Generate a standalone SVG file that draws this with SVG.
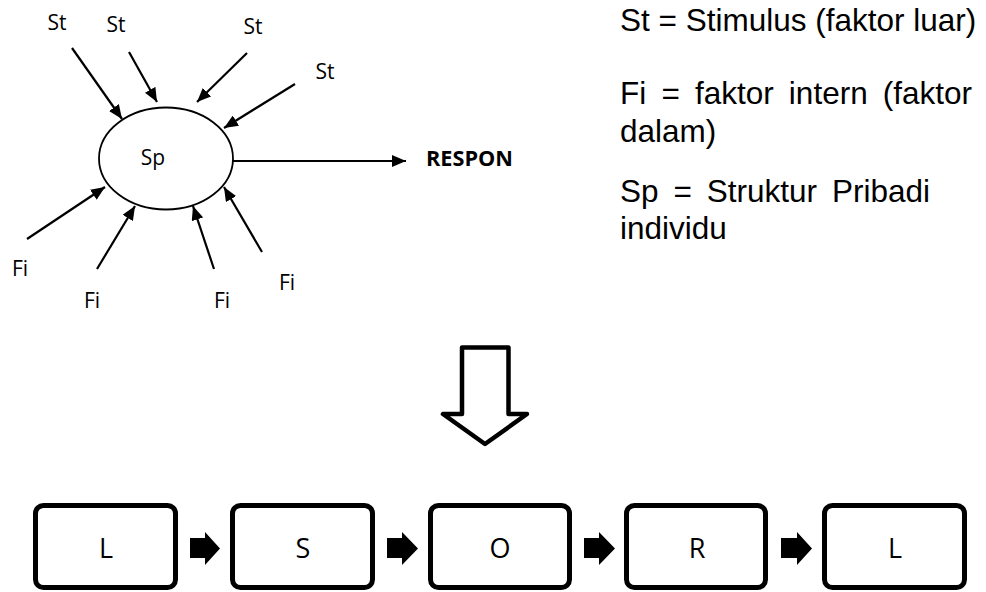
<svg xmlns="http://www.w3.org/2000/svg" width="986" height="592" viewBox="0 0 986 592">
<style>
.lbl{font-family:"Open Sans","Liberation Sans",sans-serif;font-size:21px;fill:#000;text-anchor:middle}
.leg{font-family:"Liberation Sans",Arial,sans-serif;font-size:31.5px;fill:#000}
.box{fill:#fff;stroke:#000;stroke-width:5}
.blbl{font-family:"Open Sans","Liberation Sans",sans-serif;font-size:27px;fill:#000;text-anchor:middle}
.con{stroke:#000;stroke-width:2.2;fill:none;marker-end:url(#ah)}
</style>
<defs>
<marker id="ah" markerUnits="userSpaceOnUse" markerWidth="14" markerHeight="12" refX="14" refY="6" orient="auto">
<path d="M0,0 L14,6 L0,12 z" fill="#000"/>
</marker>
</defs>
<rect width="986" height="592" fill="#fff"/>
<g id="sp">
<ellipse cx="166" cy="158.5" rx="67" ry="51" fill="#fff" stroke="#000" stroke-width="1.8"/>
<text class="lbl" x="153" y="165">Sp</text>
</g>
<g id="st1"><text class="lbl" x="57" y="30">St</text></g>
<g id="st2"><text class="lbl" x="116" y="32">St</text></g>
<g id="st3"><text class="lbl" x="253" y="34">St</text></g>
<g id="st4"><text class="lbl" x="325" y="79">St</text></g>
<g id="fi1"><text class="lbl" x="20" y="276">Fi</text></g>
<g id="fi2"><text class="lbl" x="92" y="308">Fi</text></g>
<g id="fi3"><text class="lbl" x="222" y="308">Fi</text></g>
<g id="fi4"><text class="lbl" x="287" y="290">Fi</text></g>
<g id="respon"><text x="426" y="166" textLength="87" lengthAdjust="spacingAndGlyphs" style="font-family:'Open Sans','Liberation Sans',sans-serif;font-size:22px;font-weight:bold;fill:#000">RESPON</text></g>
<g id="connectors">
<line class="con" x1="72" y1="48" x2="122" y2="119"/>
<line class="con" x1="129" y1="52" x2="157" y2="102"/>
<line class="con" x1="247" y1="53" x2="197" y2="102"/>
<line class="con" x1="295" y1="84" x2="224" y2="128"/>
<line class="con" x1="27" y1="239" x2="105" y2="187"/>
<line class="con" x1="97" y1="269" x2="135" y2="206"/>
<line class="con" x1="214" y1="269" x2="193" y2="206"/>
<line class="con" x1="262" y1="252" x2="224" y2="187"/>
<line class="con" x1="233" y1="161" x2="406" y2="161"/>
<path d="M190,538 H205 V532 L220,548.5 L205,565 V558 H190 z" fill="#000"/>
<path d="M387,538 H402 V532 L418,548.5 L402,565 V558 H387 z" fill="#000"/>
<path d="M584,538 H599 V532 L615,548.5 L599,565 V558 H584 z" fill="#000"/>
<path d="M781,538 H797 V532 L812,548.5 L797,565 V558 H781 z" fill="#000"/>
</g>
<g id="legend">
<text class="leg" x="620" y="31">St = Stimulus (faktor luar)</text>
<text class="leg" x="620" y="104" style="word-spacing:6.4px">Fi = faktor intern (faktor</text>
<text class="leg" x="620" y="142">dalam)</text>
<text class="leg" x="620" y="202" style="word-spacing:6.2px">Sp = Struktur Pribadi</text>
<text class="leg" x="620" y="239">individu</text>
</g>
<g id="down-arrow">
<polygon points="462,347.5 508.5,347.5 508.5,414 527,414 485,444 443,414 462,414" fill="#fff" stroke="#000" stroke-width="4.5" stroke-linejoin="round"/>
</g>
<g id="box-l1"><rect class="box" x="35.5" y="505.5" width="140" height="82" rx="8"/><text class="blbl" x="106" y="558">L</text></g>
<g id="box-s"><rect class="box" x="232.5" y="505.5" width="140" height="82" rx="8"/><text class="blbl" x="303" y="558">S</text></g>
<g id="box-o"><rect class="box" x="430.5" y="505.5" width="139" height="82" rx="8"/><text class="blbl" x="500" y="558">O</text></g>
<g id="box-r"><rect class="box" x="626.5" y="505.5" width="139" height="82" rx="8"/><text class="blbl" x="697" y="558">R</text></g>
<g id="box-l2"><rect class="box" x="824.5" y="505.5" width="140" height="82" rx="8"/><text class="blbl" x="895" y="558">L</text></g>
</svg>
